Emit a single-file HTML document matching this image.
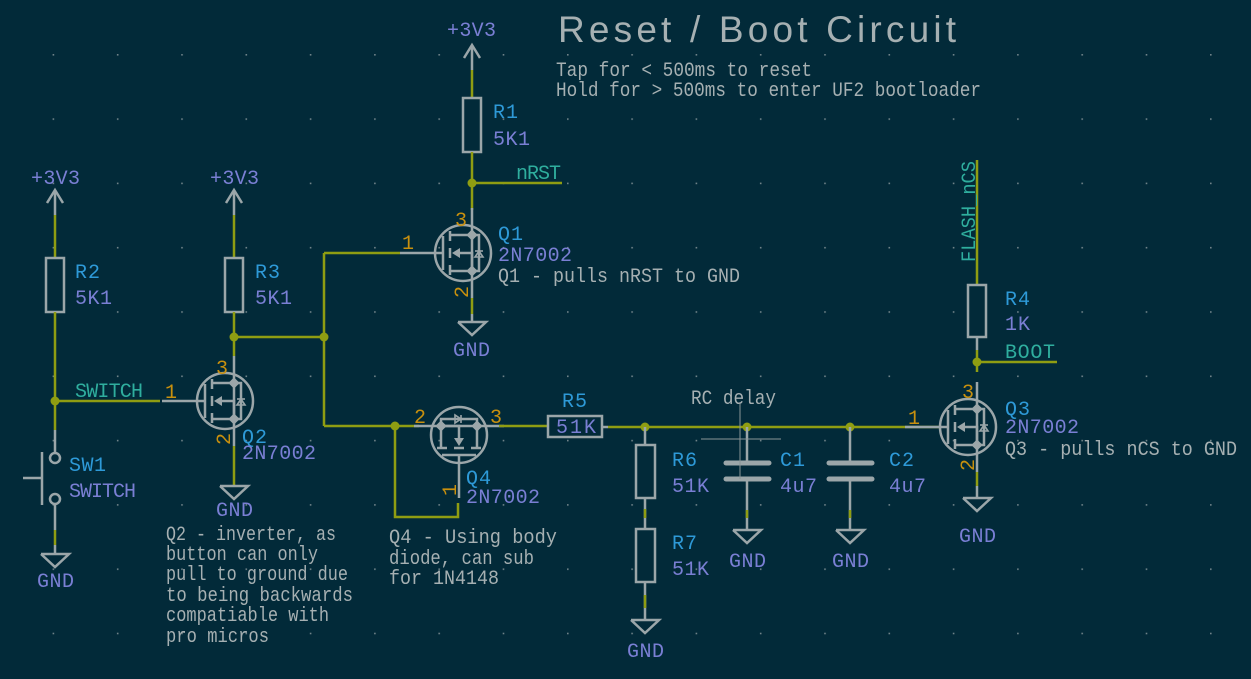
<!DOCTYPE html>
<html><head><meta charset="utf-8"><style>
html,body{margin:0;padding:0;background:#022a39;}
svg{display:block}
text{font-family:"Liberation Mono","DejaVu Sans Mono",monospace;font-size:20px}
.w{stroke:#8f9d12;stroke-width:2.5;fill:none}
.s{stroke:#9ba6a9;stroke-width:2.5;fill:none}
.j{fill:#8f9d12}
.ref{fill:#2e9ad8}
.val{fill:#7a7fd4}
.pin{fill:#c8900e}
.net{fill:#2fae9e}
.txt{fill:#a6b0b2}
</style></head><body>
<svg width="1251" height="679" viewBox="0 0 1251 679" xmlns="http://www.w3.org/2000/svg">
<defs>
<pattern id="g" x="52.6" y="-10.3" width="64.3" height="64.3" patternUnits="userSpaceOnUse">
<rect x="0" y="0" width="1.6" height="1.6" fill="#6f8288"/>
</pattern>
<g id="fet">
<circle cx="0" cy="0" r="28" class="s"/>
<line x1="-63" y1="0" x2="-20" y2="0" class="s"/>
<line x1="-20" y1="-17" x2="-20" y2="17" class="s"/>
<line x1="-13" y1="-22" x2="-13" y2="-12" class="s"/>
<line x1="-13" y1="-5" x2="-13" y2="5" class="s"/>
<line x1="-13" y1="12" x2="-13" y2="22" class="s"/>
<polyline points="-13,-18 9,-18" class="s"/>
<polyline points="-13,18 9,18" class="s"/>
<polyline points="-4,0 9,0 9,18" class="s"/>
<polygon points="-11,0 -3,-5 -3,5" fill="#9ba6a9"/>
<line x1="9" y1="-45" x2="9" y2="45" class="s"/>
<polyline points="9,-18 16,-18 16,18 9,18" class="s" stroke-width="1.8"/>
<polygon points="12,4 20,4 16,-2" fill="none" stroke="#9ba6a9" stroke-width="1.6"/>
<line x1="12" y1="-2" x2="20" y2="-2" stroke="#9ba6a9" stroke-width="1.6"/>
<rect x="5" y="-22" width="8" height="8" transform="rotate(45 9 -18)" fill="#9ba6a9"/>
<rect x="5" y="14" width="8" height="8" transform="rotate(45 9 18)" fill="#9ba6a9"/>
</g>
<g id="gnd"><polyline points="-14,0 14,0 0,13 -14,0" class="s"/></g>
<g id="pwr"><polyline points="-8,13 0,0 8,13" class="s"/></g>
</defs>
<rect width="1251" height="679" fill="#022a39"/>
<rect width="1251" height="679" fill="url(#g)"/>

<!-- Title -->
<text x="558" y="42" textLength="400" style="font-family:'Liberation Sans',sans-serif;font-size:37px;letter-spacing:2px" class="txt">Reset / Boot Circuit</text>
<text x="556" y="76" class="txt" textLength="256" lengthAdjust="spacingAndGlyphs">Tap for &lt; 500ms to reset</text>
<text x="556" y="96" class="txt" textLength="425" lengthAdjust="spacingAndGlyphs">Hold for &gt; 500ms to enter UF2 bootloader</text>

<!-- Left SW branch -->
<text x="31" y="184" class="val" textLength="49">+3V3</text>
<use href="#pwr" x="55" y="190"/>
<line x1="55" y1="190" x2="55" y2="215" class="s"/>
<line x1="55" y1="215" x2="55" y2="258" class="w"/>
<rect x="46" y="258" width="18" height="54" class="s"/>
<line x1="55" y1="312" x2="55" y2="430" class="w"/>
<line x1="55" y1="430" x2="55" y2="453" class="s"/>
<circle cx="55" cy="458" r="5" class="s"/>
<circle cx="55" cy="499" r="5" class="s"/>
<line x1="42" y1="452" x2="42" y2="505" class="s"/>
<line x1="23" y1="478" x2="42" y2="478" class="s"/>
<line x1="55" y1="504" x2="55" y2="530" class="s"/>
<line x1="55" y1="530" x2="55" y2="545" class="w"/>
<line x1="55" y1="545" x2="55" y2="554" class="s"/>
<use href="#gnd" x="55" y="554"/>
<text x="37" y="587" class="val" textLength="37">GND</text>
<text x="69" y="471" class="ref" textLength="37">SW1</text>
<text x="69" y="497" class="val" textLength="67">SWITCH</text>
<text x="75" y="278" class="ref" textLength="25">R2</text>
<text x="75" y="304" class="val" textLength="37">5K1</text>
<line x1="55" y1="401" x2="160" y2="401" class="w"/>
<circle cx="55" cy="401" r="4.5" class="j"/>
<text x="75" y="397" class="net" textLength="68">SWITCH</text>

<!-- Q2 -->
<use href="#fet" x="225" y="401"/>
<text x="165" y="398" class="pin">1</text>
<text x="216" y="374" class="pin">3</text>
<text x="230" y="445" class="pin" transform="rotate(-90 230 445)">2</text>
<text x="242" y="443" class="ref" textLength="25">Q2</text>
<text x="242" y="459" class="val" textLength="74">2N7002</text>
<line x1="234" y1="446" x2="234" y2="486" class="w"/>
<use href="#gnd" x="234" y="486"/>
<text x="216" y="516" class="val" textLength="37">GND</text>

<!-- R3 -->
<text x="210" y="184" class="val" textLength="49">+3V3</text>
<use href="#pwr" x="234" y="190"/>
<line x1="234" y1="190" x2="234" y2="215" class="s"/>
<line x1="234" y1="215" x2="234" y2="258" class="w"/>
<rect x="225" y="258" width="18" height="54" class="s"/>
<line x1="234" y1="312" x2="234" y2="356" class="w"/>
<line x1="234" y1="337" x2="324" y2="337" class="w"/>
<circle cx="234" cy="337" r="4.5" class="j"/>
<circle cx="324" cy="337" r="4.5" class="j"/>
<text x="255" y="278" class="ref" textLength="25">R3</text>
<text x="255" y="304" class="val" textLength="37">5K1</text>
<line x1="324" y1="253" x2="324" y2="426" class="w"/>
<line x1="324" y1="253" x2="400" y2="253" class="w"/>
<line x1="324" y1="426" x2="419" y2="426" class="w"/>

<!-- Q1 / R1 -->
<text x="447" y="36" class="val" textLength="49">+3V3</text>
<use href="#pwr" x="472" y="45"/>
<line x1="472" y1="45" x2="472" y2="70" class="s"/>
<line x1="472" y1="70" x2="472" y2="98" class="w"/>
<rect x="463" y="98" width="18" height="54" class="s"/>
<line x1="472" y1="152" x2="472" y2="210" class="w"/>
<line x1="472" y1="183" x2="562" y2="183" class="w"/>
<circle cx="472" cy="183" r="4.5" class="j"/>
<text x="516" y="179" class="net" textLength="45">nRST</text>
<text x="493" y="118" class="ref" textLength="25">R1</text>
<text x="493" y="145" class="val" textLength="37">5K1</text>
<use href="#fet" x="463" y="253"/>
<text x="402" y="249" class="pin">1</text>
<text x="455" y="226" class="pin">3</text>
<text x="468" y="298" class="pin" transform="rotate(-90 468 298)">2</text>
<text x="498" y="240" class="ref" textLength="25">Q1</text>
<text x="498" y="261" class="val" textLength="74">2N7002</text>
<text x="498" y="282" class="txt" textLength="242" lengthAdjust="spacingAndGlyphs">Q1 - pulls nRST to GND</text>
<line x1="472" y1="298" x2="472" y2="314" class="w"/>
<line x1="472" y1="314" x2="472" y2="322" class="s"/>
<use href="#gnd" x="472" y="322"/>
<text x="453" y="356" class="val" textLength="37">GND</text>

<!-- Q4 -->
<use href="#fet" transform="translate(459,435) scale(-1,1) rotate(-90)"/>
<circle cx="395" cy="426" r="4.5" class="j"/>
<polyline points="395,426 395,517 458,517 458,503" class="w"/>
<line x1="499" y1="426" x2="548" y2="426" class="w"/>
<text x="414" y="423" class="pin">2</text>
<text x="490" y="423" class="pin">3</text>
<text x="456" y="496" class="pin" transform="rotate(-90 456 496)">1</text>
<text x="466" y="484" class="ref" textLength="25">Q4</text>
<text x="466" y="503" class="val" textLength="74">2N7002</text>

<!-- R5 and RC -->
<rect x="548" y="416" width="54" height="21" class="s"/>
<text x="562" y="407" class="ref" textLength="25">R5</text>
<text x="556" y="433" class="val" textLength="40">51K</text>
<line x1="602" y1="427" x2="608" y2="427" class="s"/>
<line x1="608" y1="427" x2="940" y2="427" class="w"/>
<circle cx="645" cy="427" r="4.5" class="j"/>
<circle cx="747" cy="427" r="4.5" class="j"/>
<circle cx="850" cy="427" r="4.5" class="j"/>
<!-- R6 R7 -->
<line x1="645" y1="427" x2="645" y2="445" class="s"/>
<rect x="636" y="445" width="19" height="53" class="s"/>
<line x1="645" y1="498" x2="645" y2="529" class="s"/>
<line x1="645" y1="509" x2="645" y2="518" class="w"/>
<rect x="636" y="529" width="19" height="53" class="s"/>
<line x1="645" y1="582" x2="645" y2="620" class="s"/>
<line x1="645" y1="595" x2="645" y2="608" class="w"/>
<use href="#gnd" x="645" y="620"/>
<text x="627" y="657" class="val" textLength="37">GND</text>
<text x="672" y="466" class="ref" textLength="25">R6</text>
<text x="672" y="492" class="val" textLength="37">51K</text>
<text x="672" y="549" class="ref" textLength="25">R7</text>
<text x="672" y="575" class="val" textLength="37">51K</text>
<!-- C1 -->
<line x1="747" y1="427" x2="747" y2="463" class="s"/>
<line x1="726" y1="463" x2="769" y2="463" stroke="#9ba6a9" stroke-width="5" stroke-linecap="round"/>
<line x1="726" y1="479" x2="769" y2="479" stroke="#9ba6a9" stroke-width="5" stroke-linecap="round"/>
<line x1="747" y1="479" x2="747" y2="530" class="s"/>
<line x1="747" y1="510" x2="747" y2="518" class="w"/>
<use href="#gnd" x="747" y="530"/>
<text x="729" y="567" class="val" textLength="37">GND</text>
<text x="780" y="466" class="ref" textLength="25">C1</text>
<text x="780" y="492" class="val" textLength="37">4u7</text>
<!-- C2 -->
<line x1="850" y1="427" x2="850" y2="463" class="s"/>
<line x1="829" y1="463" x2="872" y2="463" stroke="#9ba6a9" stroke-width="5" stroke-linecap="round"/>
<line x1="829" y1="479" x2="872" y2="479" stroke="#9ba6a9" stroke-width="5" stroke-linecap="round"/>
<line x1="850" y1="479" x2="850" y2="530" class="s"/>
<line x1="850" y1="510" x2="850" y2="518" class="w"/>
<use href="#gnd" x="850" y="530"/>
<text x="832" y="567" class="val" textLength="37">GND</text>
<text x="889" y="466" class="ref" textLength="25">C2</text>
<text x="889" y="492" class="val" textLength="37">4u7</text>
<!-- RC delay -->
<text x="691" y="404" class="txt" textLength="85" lengthAdjust="spacingAndGlyphs">RC delay</text>
<line x1="740" y1="402" x2="740" y2="479" stroke="#8a9598" stroke-width="1"/>
<line x1="701" y1="439" x2="781" y2="439" stroke="#8a9598" stroke-width="1"/>

<!-- Q3 / R4 -->
<line x1="977" y1="160" x2="977" y2="285" class="w"/>
<text x="975" y="262" class="net" transform="rotate(-90 975 262)" textLength="101" lengthAdjust="spacingAndGlyphs">FLASH_nCS</text>
<rect x="968" y="285" width="18" height="52" class="s"/>
<line x1="977" y1="337" x2="977" y2="350" class="s"/>
<line x1="977" y1="350" x2="977" y2="372" class="w"/>
<line x1="977" y1="362" x2="1057" y2="362" class="w"/>
<circle cx="977" cy="362" r="4.5" class="j"/>
<text x="1005" y="358" class="net" textLength="50">BOOT</text>
<text x="1005" y="305" class="ref" textLength="25">R4</text>
<text x="1005" y="330" class="val" textLength="25">1K</text>
<use href="#fet" x="968" y="427"/>
<text x="908" y="424" class="pin">1</text>
<text x="962" y="398" class="pin">3</text>
<text x="974" y="471" class="pin" transform="rotate(-90 974 471)">2</text>
<text x="1005" y="415" class="ref" textLength="25">Q3</text>
<text x="1005" y="433" class="val" textLength="74">2N7002</text>
<text x="1005" y="455" class="txt" textLength="232" lengthAdjust="spacingAndGlyphs">Q3 - pulls nCS to GND</text>
<line x1="977" y1="472" x2="977" y2="486" class="w"/>
<line x1="977" y1="486" x2="977" y2="498" class="s"/>
<use href="#gnd" x="977" y="498"/>
<text x="959" y="542" class="val" textLength="37">GND</text>

<!-- comments -->
<text x="166" y="540" class="txt" textLength="170" lengthAdjust="spacingAndGlyphs">Q2 - inverter, as</text>
<text x="166" y="560" class="txt" textLength="152" lengthAdjust="spacingAndGlyphs">button can only</text>
<text x="166" y="580" class="txt" textLength="182" lengthAdjust="spacingAndGlyphs">pull to ground due</text>
<text x="166" y="601" class="txt" textLength="187" lengthAdjust="spacingAndGlyphs">to being backwards</text>
<text x="166" y="621" class="txt" textLength="163" lengthAdjust="spacingAndGlyphs">compatiable with</text>
<text x="166" y="642" class="txt" textLength="103" lengthAdjust="spacingAndGlyphs">pro micros</text>
<text x="389" y="543" class="txt" textLength="168" lengthAdjust="spacingAndGlyphs">Q4 - Using body</text>
<text x="389" y="564" class="txt" textLength="145" lengthAdjust="spacingAndGlyphs">diode, can sub</text>
<text x="389" y="584" class="txt" textLength="110" lengthAdjust="spacingAndGlyphs">for 1N4148</text>
</svg>
</body></html>
